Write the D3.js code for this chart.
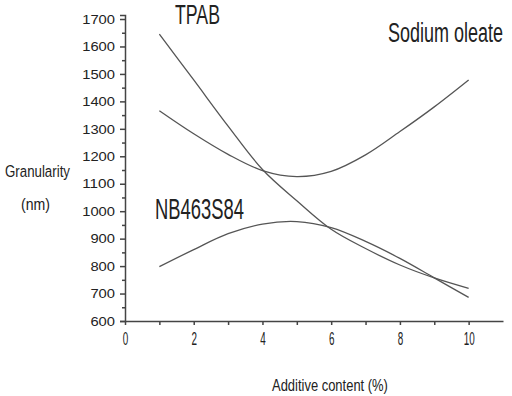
<!DOCTYPE html>
<html>
<head>
<meta charset="utf-8">
<script src="https://cdn.jsdelivr.net/npm/d3@7"></script>
<style>
  body { margin: 0; background: #fff; }
  text { font-family: "Liberation Sans Narrow", "Liberation Sans", Arial, sans-serif; fill: #222; }
</style>
</head>
<body>
<div id="chart-area"></div>
<script>
const WIDTH = 512;
const HEIGHT = 396;

// additive content (%)
const additive = [1, 2, 3, 4, 5, 6, 7, 8, 9, 10];
// granularity (nm)
const tpab = [1645, 1478, 1310, 1152, 1038, 934, 864, 804, 757, 719];
const sodiumOleate = [1366, 1282, 1207, 1148, 1126, 1145, 1205, 1290, 1380, 1478];
const nb463s84 = [798, 860, 918, 953, 962, 940, 890, 828, 757, 686];

const xTicks = [0, 2, 4, 6, 8, 10];
const xMinor = [1, 3, 5, 7, 9];
const yTicks = [600, 700, 800, 900, 1000, 1100, 1200, 1300, 1400, 1500, 1600, 1700];
const yMinor = [650, 750, 850, 950, 1050, 1150, 1250, 1350, 1450, 1550, 1650];

const series = [
	{ name: "TPAB", values: tpab },
	{ name: "Sodium oleate", values: sodiumOleate },
	{ name: "NB463S84", values: nb463s84 }
];

const svg = d3.select("#chart-area").append("svg")
	.attr("width", WIDTH)
	.attr("height", HEIGHT)

const x = d3.scaleLinear()
	.domain([0, 11])
	.range([125, 503])

const y = d3.scaleLinear()
	.domain([600, 1715])
	.range([321, 14.9])

// squeeze a text to a given width (the original uses a narrow font)
const squeeze = (sel, px, py, len) => {
	const w = sel.node().getComputedTextLength();
	sel.attr("transform", `translate(${px}, ${py}) scale(${len / w}, 1)`);
}

// y axis
const yAxisCall = d3.axisLeft(y)
	.tickValues(yTicks)
	.tickSize(5)
	.tickPadding(5)
	.tickFormat(d3.format("d"))

svg.append("g")
	.attr("class", "yAxis")
	.attr("transform", `translate(${x(0)}, 0)`)
	.call(yAxisCall)
	.call(g => g.selectAll("text")
		.style("font-size", "13px")
		.attr("textLength", d => String(d).length * 8.2)
		.attr("lengthAdjust", "spacingAndGlyphs"))

svg.append("g")
	.attr("class", "yMinor")
	.attr("transform", `translate(${x(0)}, 0)`)
	.call(d3.axisLeft(y).tickValues(yMinor).tickSize(3).tickFormat(""))
	.call(g => g.select(".domain").remove())

// x axis
const xAxisCall = d3.axisBottom(x)
	.tickValues(xTicks)
	.tickSize(4)
	.tickPadding(7)
	.tickSizeOuter(0)
	.tickFormat(d3.format("d"))

svg.append("g")
	.attr("class", "xAxis")
	.attr("transform", `translate(0, ${y(600)})`)
	.call(xAxisCall)
	.call(g => g.selectAll("text")
		.style("font-size", "18px")
		.attr("textLength", d => String(d).length * 5.5)
		.attr("lengthAdjust", "spacingAndGlyphs"))

svg.append("g")
	.attr("class", "xMinor")
	.attr("transform", `translate(0, ${y(600)})`)
	.call(d3.axisBottom(x).tickValues(xMinor).tickSize(4).tickFormat(""))
	.call(g => g.select(".domain").remove())

svg.selectAll(".domain, .tick line")
	.attr("stroke", "#444")
	.attr("stroke-width", 1.5)

// axis labels
svg.append("text")
	.style("font-size", "17px")
	.text("Additive content (%)")
	.call(squeeze, 272, 391, 116)

svg.append("text")
	.style("font-size", "17px")
	.text("Granularity")
	.call(squeeze, 5, 177, 65)

svg.append("text")
	.style("font-size", "17px")
	.text("(nm)")
	.call(squeeze, 21, 210, 29)

// curves
const line = d3.line()
	.x((d, i) => x(additive[i]))
	.y(d => y(d))
	.curve(d3.curveCatmullRom.alpha(0.5))

svg.selectAll(".curve")
	.data(series)
	.enter()
	.append("path")
	.attr("class", "curve")
	.attr("d", d => line(d.values))
	.attr("fill", "none")
	.attr("stroke", "#555")
	.attr("stroke-width", 1.3)

// series labels
const labels = [
	{ text: "TPAB", x: 175, y: 24, size: 28, len: 45 },
	{ text: "Sodium oleate", x: 388, y: 42, size: 28, len: 115 },
	{ text: "NB463S84", x: 155, y: 219, size: 30, len: 89 }
];

labels.forEach(d => {
	svg.append("text")
		.attr("class", "seriesLabel")
		.style("font-size", d.size + "px")
		.text(d.text)
		.call(squeeze, d.x, d.y, d.len)
});
</script>
</body>
</html>
